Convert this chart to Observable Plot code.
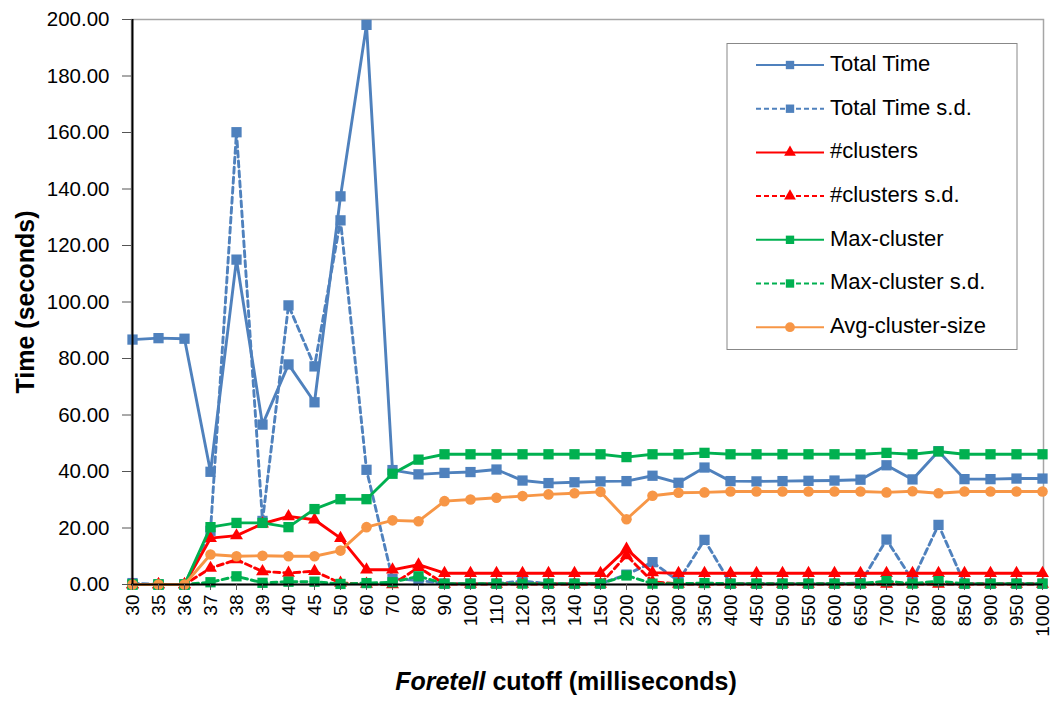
<!DOCTYPE html>
<html>
<head>
<meta charset="utf-8">
<script src="https://cdn.jsdelivr.net/npm/d3@7"></script>
<script src="https://cdn.jsdelivr.net/npm/@observablehq/plot@0.6"></script>
<style>
  html, body { margin: 0; padding: 0; background: #fff; }
  #chart { position: relative; width: 1059px; height: 701px; }
</style>
</head>
<body>
<div id="chart"></div>
<script>
const categories = ["30","35","36","37","38","39","40","45","50","60","70","80","90","100","110","120","130","140","150","200","250","300","350","400","450","500","550","600","650","700","750","800","850","900","950","1000"];

const totalTime   = [86.7,87.2,87.0,39.9,115.0,56.6,77.9,64.5,137.4,198.1,40.5,39.0,39.5,39.8,40.7,36.8,35.9,36.2,36.5,36.6,38.5,36.0,41.4,36.6,36.5,36.6,36.7,36.8,37.1,42.2,37.2,47.2,37.3,37.3,37.5,37.5];
const totalTimeSd = [0.5,0,0,19.0,160.1,22.5,98.8,77.2,128.9,40.6,2.0,1.5,0.3,0.3,0.3,1.2,0.3,0.3,0.3,3.5,7.9,1.2,15.8,0.3,0.3,0.3,0.3,0.3,0.5,15.9,1.5,21.1,0.3,0.3,0.3,0.3];
const clusters    = [0,0,0,16.4,17.3,21.5,24.1,22.9,16.4,5.2,5.2,7.0,4,4,4,4,4,4,4,12.6,4.2,4,4,4,4,4,4,4,4,4,4,4,4,4,4,4];
const clustersSd  = [0,0,0,5.8,8.8,4.6,4.1,4.7,0.5,0.2,0,6.1,0.2,0.2,0.2,0.2,0.2,0.2,0.2,10.3,1.0,0.2,0.2,0.2,0.2,0.2,0.2,0.2,0.2,0.2,0.2,0.2,0.2,0.2,0.2,0.2];
const maxCluster  = [0,0,0,20.3,21.8,21.8,20.3,26.7,30.2,30.2,39.2,44.2,46.1,46.1,46.1,46.1,46.1,46.1,46.1,45.1,46.1,46.1,46.6,46.1,46.1,46.1,46.1,46.1,46.1,46.6,46.1,47.1,46.1,46.1,46.1,46.1];
const maxClusterSd= [0,0,0,0.8,2.9,0.6,1.0,1.0,0.2,0.5,0.8,2.9,0.3,0.3,0.3,0.3,0.3,0.3,0.3,3.2,0.3,0.3,0.5,0.3,0.3,0.3,0.3,0.3,0.3,1.2,0.3,1.2,0.3,0.3,0.3,0.3];
const avgCluster  = [0,0,0,10.6,10.0,10.2,10.0,10.0,12.0,20.3,22.7,22.4,29.5,30.1,30.7,31.3,31.9,32.3,32.8,23.1,31.4,32.5,32.6,32.9,32.9,32.9,32.9,32.9,32.9,32.6,33.0,32.3,32.9,32.9,32.9,32.9];

const seriesNames = ["Total Time","Total Time s.d.","#clusters","#clusters s.d.","Max-cluster","Max-cluster s.d.","Avg-cluster-size"];
const seriesValues = [totalTime,totalTimeSd,clusters,clustersSd,maxCluster,maxClusterSd,avgCluster];
const seriesColors = ["#4F81BD","#4F81BD","#FF0000","#FF0000","#00B050","#00B050","#F79646"];
const seriesDashed = [false,true,false,true,false,true,false];
const seriesSymbols = ["square","square","triangle","triangle","square","square","circle"];
const yTicks = [0,20,40,60,80,100,120,140,160,180,200];

const FONT = "'Liberation Sans', Arial, sans-serif";
const symR = {square: 5.8, triangle: 4.8, circle: 5.3};

const marks = [];
marks.push(Plot.frame({stroke: "#a6a6a6", strokeWidth: 1.5}));
seriesNames.forEach((name, i) => {
  const data = categories.map((c, j) => ({cat: c, value: seriesValues[i][j]}));
  marks.push(Plot.line(data, {
    x: "cat", y: "value", stroke: seriesColors[i], strokeWidth: 2.9,
    strokeDasharray: seriesDashed[i] ? "6,4" : null
  }));
  marks.push(Plot.dot(data, {
    x: "cat", y: "value", fill: seriesColors[i], stroke: "none",
    symbol: seriesSymbols[i], r: symR[seriesSymbols[i]]
  }));
});
marks.push(Plot.ruleX([categories[0]], {stroke: "#000", strokeWidth: 2}));
marks.push(Plot.ruleY([0], {stroke: "#000", strokeWidth: 2}));
marks.push(Plot.axisY({ticks: yTicks, tickFormat: d3.format(".2f"), tickSize: 9, tickPadding: 13, fontSize: 20.5, label: null, stroke: "#555"}));
marks.push(Plot.axisX({tickRotate: -90, tickSize: 6, tickPadding: 4, fontSize: 19, label: null, stroke: "#555"}));

const svg = Plot.plot({
  width: 1059, height: 701,
  marginLeft: 131, marginRight: 16, marginTop: 19, marginBottom: 117,
  style: {fontFamily: FONT, color: "#000", background: "#fff", overflow: "visible"},
  x: {type: "point", domain: categories, padding: 0},
  y: {domain: [0, 200]},
  marks
});

document.getElementById("chart").appendChild(svg);

const s = d3.select(svg);
// Axis titles
s.append("text")
  .attr("transform", "translate(27,302) rotate(-90)")
  .attr("text-anchor", "middle").attr("dominant-baseline", "middle")
  .attr("font-family", FONT).attr("font-weight", "bold").attr("font-size", 25).attr("fill", "#000")
  .text("Time (seconds)");
const xt = s.append("text")
  .attr("x", 566).attr("y", 683)
  .attr("text-anchor", "middle").attr("dominant-baseline", "middle")
  .attr("font-family", FONT).attr("font-weight", "bold").attr("font-size", 25).attr("fill", "#000");
xt.append("tspan").attr("font-style", "italic").text("Foretell");
xt.append("tspan").text(" cutoff (milliseconds)");

// Legend
const lg = s.append("g");
lg.append("rect").attr("x", 727).attr("y", 43.5).attr("width", 290).attr("height", 306)
  .attr("fill", "#fff").attr("stroke", "#888").attr("stroke-width", 1);
const legSym = {square: d3.symbol(d3.symbolSquare, 70), triangle: d3.symbol(d3.symbolTriangle, 60), circle: d3.symbol(d3.symbolCircle, 75)};
seriesNames.forEach((name, i) => {
  const cy = 65 + i * 43.7;
  lg.append("line").attr("x1", 756).attr("x2", 824).attr("y1", cy).attr("y2", cy)
    .attr("stroke", seriesColors[i]).attr("stroke-width", 2)
    .attr("stroke-dasharray", seriesDashed[i] ? "5,3" : null);
  lg.append("path").attr("d", legSym[seriesSymbols[i]]()).attr("transform", `translate(790,${cy})`)
    .attr("fill", seriesColors[i]);
  lg.append("text").attr("x", 830).attr("y", cy).attr("dominant-baseline", "middle")
    .attr("text-anchor", "start")
    .attr("font-family", FONT).attr("font-size", 22).attr("fill", "#000").text(name);
});
</script>
</body>
</html>
